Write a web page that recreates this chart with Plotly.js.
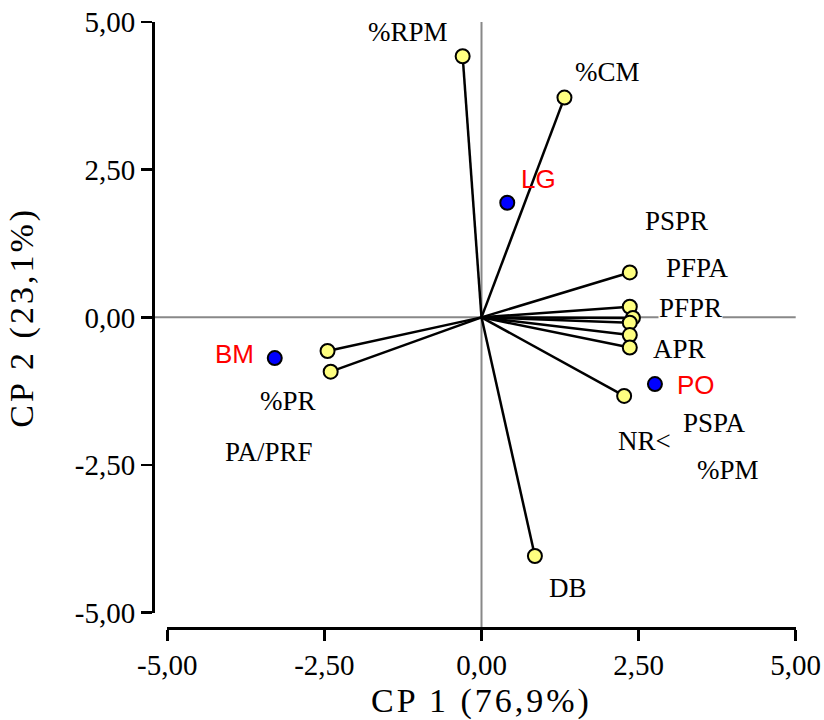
<!DOCTYPE html>
<html>
<head>
<meta charset="utf-8">
<script src="https://cdn.plot.ly/plotly-3.0.1.min.js"></script>
<style>
  html, body { margin: 0; padding: 0; background: #fff; }
  #chart { width: 824px; height: 720px; }
  /* slightly airy lettering for the axis titles */
  #chart .g-xtitle text, #chart .g-ytitle text { letter-spacing: 3px; }
</style>
</head>
<body>
<div id="chart"></div>
<script>
// PCA biplot: variable loadings (vectors) and group scores on CP1 x CP2

// Variable loadings
const varNames = ['%RPM', '%CM', 'PSPR', 'PFPA', 'PFPR', 'APR', 'PSPA', '%PM', 'NR<', 'DB', '%PR', 'PA/PRF'];
const varCP1   = [-0.30, 1.32, 2.36, 2.36, 2.41, 2.36, 2.36, 2.36, 2.27, 0.85, -2.45, -2.40];
const varCP2   = [4.42, 3.72, 0.76, 0.18, -0.01, -0.09, -0.30, -0.51, -1.33, -4.04, -0.57, -0.92];

// Variable label anchor positions
const varLabelX = [-1.17, 2.00, 3.11, 3.43, 3.33, 3.15, 3.71, 3.92, 2.60, 1.37, -3.08, -3.38];
const varLabelY = [4.83, 4.15, 1.63, 0.83, 0.16, -0.54, -1.79, -2.59, -2.09, -4.58, -1.42, -2.28];

// Group scores
const groupNames = ['LG', 'BM', 'PO'];
const groupCP1   = [0.41, -3.29, 2.76];
const groupCP2   = [1.94, -0.69, -1.13];
const groupLabelX = [0.90, -3.93, 3.41];
const groupLabelY = [2.34, -0.62, -1.14];

// Axes
const tickVals  = [-5, -2.5, 0, 2.5, 5];
const tickTexts = ['-5,00', '-2,50', '0,00', '2,50', '5,00'];
const xTitle = 'CP 1 (76,9%)';
const yTitle = 'CP 2 (23,1%)';

const W = 824, H = 720;
const xDom = [167.3 / W, 795.7 / W];
const yDom = [1 - 612.7 / H, 1 - 22 / H];
const yAxisPos = 153 / W;
const xAxisPos = 1 - 628 / H;

const serif = 'Liberation Serif, Times New Roman, serif';
const sans = 'Liberation Sans, Arial, sans-serif';

// Vectors from the origin to each loading
const vecX = [], vecY = [];
varCP1.forEach((v, i) => { vecX.push(0, v, null); vecY.push(0, varCP2[i], null); });

const traces = [
  {
    type: 'scatter', mode: 'lines', x: vecX, y: vecY,
    line: { color: '#000', width: 2.5 }, hoverinfo: 'skip', showlegend: false
  },
  {
    type: 'scatter', mode: 'markers', x: varCP1, y: varCP2, text: varNames,
    marker: { size: 14, color: '#ffff80', line: { color: '#000', width: 2 } },
    showlegend: false, cliponaxis: false
  },
  {
    type: 'scatter', mode: 'markers', x: groupCP1, y: groupCP2, text: groupNames,
    marker: { size: 14, color: '#0000ff', line: { color: '#000', width: 2 } },
    showlegend: false, cliponaxis: false
  }
];

const annotations = [];
varNames.forEach((n, i) => {
  annotations.push({
    x: varLabelX[i], y: varLabelY[i], xref: 'x', yref: 'y', text: n,
    showarrow: false, font: { family: serif, size: 27, color: '#000' },
    bgcolor: n === 'PFPR' ? '#fff' : 'rgba(0,0,0,0)', borderpad: 0
  });
});
groupNames.forEach((n, i) => {
  annotations.push({
    x: groupLabelX[i], y: groupLabelY[i], xref: 'x', yref: 'y', text: n,
    showarrow: false, font: { family: sans, size: 26, color: '#ff0000' }
  });
});

// Gray reference lines through the origin, reaching the offset axes
const yZeroPaper = (yDom[0] + yDom[1]) / 2;
const xZeroPaper = (xDom[0] + xDom[1]) / 2;
const shapes = [
  { type: 'line', xref: 'paper', yref: 'paper', x0: yAxisPos, x1: xDom[1], y0: yZeroPaper, y1: yZeroPaper,
    line: { color: '#888', width: 2 }, layer: 'below' },
  { type: 'line', xref: 'paper', yref: 'paper', x0: xZeroPaper, x1: xZeroPaper, y0: xAxisPos, y1: yDom[1],
    line: { color: '#888', width: 2 }, layer: 'below' }
];

const axisCommon = {
  range: [-5, 5], tickmode: 'array', tickvals: tickVals, ticktext: tickTexts,
  showgrid: false, zeroline: false, showline: true, linecolor: '#000', linewidth: 2.5,
  ticks: 'outside', ticklen: 11, tickwidth: 2.5, tickcolor: '#000',
  tickfont: { family: serif, size: 29, color: '#000' }, anchor: 'free', fixedrange: true
};

const layout = {
  width: W, height: H,
  margin: { l: 0, r: 0, t: 0, b: 0 },
  paper_bgcolor: '#fff', plot_bgcolor: '#fff',
  showlegend: false,
  xaxis: Object.assign({}, axisCommon, {
    domain: xDom, position: xAxisPos,
    title: { text: xTitle, font: { family: serif, size: 34, color: '#000' }, standoff: 8 }
  }),
  yaxis: Object.assign({}, axisCommon, {
    domain: yDom, position: yAxisPos,
    title: { text: yTitle, font: { family: serif, size: 34, color: '#000' }, standoff: 30 }
  }),
  annotations: annotations,
  shapes: shapes
};

Plotly.newPlot('chart', traces, layout, { displayModeBar: false, staticPlot: true });
</script>
</body>
</html>
